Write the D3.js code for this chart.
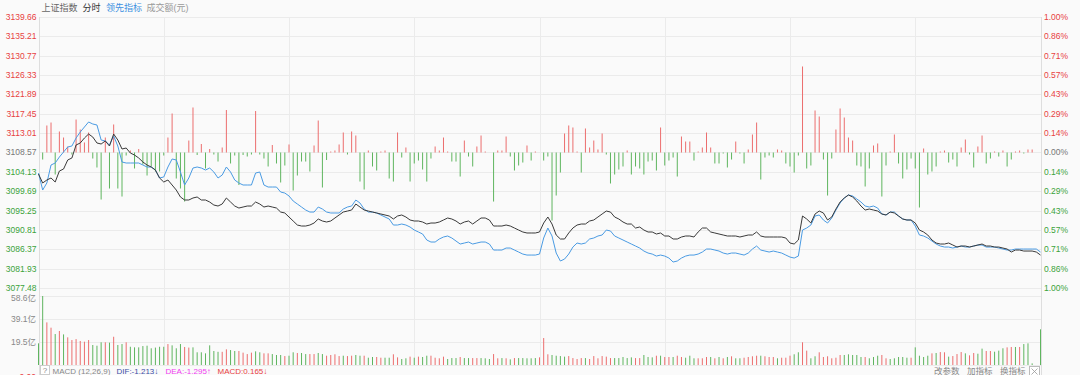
<!DOCTYPE html>
<html>
<head>
<meta charset="utf-8">
<script src="https://cdn.jsdelivr.net/npm/d3@7"></script>
<style>
  html, body { margin: 0; padding: 0; background: #fafafa; }
  svg { display: block; font-family: "Liberation Sans", Arial, "Noto Sans CJK SC", sans-serif; }
</style>
</head>
<body>
<svg id="chart" width="1080" height="375"></svg>
<script>
//DATA
const preClose = 3108.57;

const priceTicks = [3139.66, 3135.21, 3130.77, 3126.33, 3121.89, 3117.45, 3113.01, 3108.57,
  3104.13, 3099.69, 3095.25, 3090.81, 3086.37, 3081.93, 3077.48];
const pctTicks = ['1.00%', '0.86%', '0.71%', '0.57%', '0.43%', '0.29%', '0.14%', '0.00%',
  '0.14%', '0.29%', '0.43%', '0.57%', '0.71%', '0.86%', '1.00%'];
const volTicks = [58.6, 39.1, 19.5];
const volTickLabels = ['58.6亿', '39.1亿', '19.5亿'];

// 上证指数 minute price, 241 minutes
const indexLine = [
  3103.63,3101.57,3102.26,3102.72,3101.80,3104.32,3104.78,3106.85,3107.31,3110.29,
  3110.75,3111.89,3112.81,3112.12,3110.75,3110.52,3111.21,3110.06,3112.81,3111.44,
  3109.37,3109.60,3108.45,3107.99,3107.31,3106.39,3105.70,3105.24,3104.55,3102.72,
  3101.80,3102.26,3101.11,3099.96,3098.36,3097.67,3097.67,3098.13,3098.36,3097.67,
  3097.67,3097.21,3096.52,3096.29,3096.75,3098.13,3097.21,3096.29,3095.83,3096.06,
  3096.29,3096.29,3097.21,3096.75,3096.06,3096.29,3096.06,3095.83,3094.91,3094.69,
  3093.77,3092.85,3091.93,3091.70,3091.70,3091.93,3092.39,3093.31,3092.85,3092.62,
  3092.85,3093.54,3094.23,3094.91,3095.14,3095.37,3096.75,3096.06,3095.37,3095.14,
  3094.91,3094.69,3094.46,3094.23,3094.00,3093.31,3094.00,3094.23,3093.77,3093.08,
  3092.85,3092.85,3092.62,3092.16,3092.39,3092.39,3092.62,3093.08,3093.54,3093.31,
  3092.85,3092.16,3092.62,3092.85,3092.16,3092.85,3093.54,3093.54,3093.08,3091.70,
  3091.70,3091.70,3091.93,3091.70,3091.24,3090.78,3090.33,3090.10,3090.10,3090.10,
  3090.33,3092.39,3093.77,3092.16,3089.64,3088.72,3088.72,3090.10,3091.24,3091.93,
  3092.16,3092.16,3092.85,3093.08,3093.77,3094.46,3095.14,3094.91,3093.77,3093.31,
  3092.62,3092.16,3092.16,3091.24,3091.47,3090.78,3090.33,3090.33,3089.87,3090.10,
  3089.41,3089.41,3088.72,3088.72,3089.18,3089.41,3089.41,3089.18,3090.33,3091.24,
  3091.24,3090.33,3090.10,3089.87,3089.64,3089.41,3089.41,3089.41,3089.18,3089.41,
  3089.64,3089.64,3090.33,3089.41,3089.18,3089.18,3089.18,3089.18,3089.18,3088.95,
  3087.80,3087.57,3088.49,3094.00,3093.31,3092.39,3094.46,3095.14,3094.69,3093.08,
  3093.77,3095.60,3097.21,3098.13,3098.82,3098.36,3097.44,3096.29,3095.37,3095.60,
  3095.37,3095.14,3094.46,3094.23,3094.91,3094.69,3094.00,3093.31,3093.08,3093.08,
  3092.39,3090.78,3090.33,3089.64,3088.49,3087.80,3087.57,3087.57,3087.80,3087.34,
  3086.88,3087.11,3087.11,3086.88,3087.11,3087.34,3087.57,3087.11,3087.11,3086.88,
  3086.88,3086.65,3086.42,3085.73,3086.19,3086.19,3085.96,3085.96,3085.96,3085.73,
  3085.04
];

// 领先指标 minute line
const leadLine = [
  3103.86,3099.96,3101.57,3105.70,3106.16,3107.53,3108.68,3109.83,3110.06,3111.89,
  3113.27,3114.42,3115.57,3115.11,3114.88,3111.44,3111.21,3110.29,3112.35,3110.06,
  3106.39,3106.16,3106.16,3106.16,3106.16,3105.70,3105.24,3105.24,3104.55,3102.72,
  3102.95,3105.24,3107.08,3106.85,3104.09,3101.11,3102.72,3105.01,3105.24,3105.01,
  3104.55,3105.01,3104.09,3102.72,3103.40,3105.24,3104.09,3102.26,3101.57,3101.11,
  3101.11,3101.11,3103.86,3104.09,3101.11,3100.65,3100.65,3100.65,3099.50,3099.27,
  3098.59,3097.44,3096.75,3096.06,3095.37,3094.91,3094.91,3096.06,3095.60,3094.91,
  3094.69,3094.69,3094.69,3095.60,3096.06,3096.29,3097.67,3096.98,3095.60,3094.91,
  3094.91,3094.69,3094.23,3093.77,3093.31,3091.93,3091.93,3092.16,3091.93,3091.47,
  3090.78,3090.33,3089.87,3088.49,3088.03,3088.03,3088.72,3089.18,3089.41,3088.95,
  3088.26,3087.57,3087.80,3088.03,3087.57,3087.80,3088.03,3088.03,3087.57,3086.19,
  3086.19,3086.19,3086.65,3086.65,3086.19,3085.73,3085.27,3085.04,3085.04,3085.04,
  3085.27,3088.95,3091.24,3089.41,3085.50,3083.67,3084.12,3085.27,3086.88,3087.80,
  3087.57,3087.80,3088.72,3088.95,3089.41,3089.64,3090.78,3090.56,3089.41,3088.95,
  3088.49,3088.03,3087.57,3087.11,3086.65,3085.96,3085.50,3085.27,3084.81,3085.04,
  3084.81,3084.35,3083.44,3083.67,3084.35,3084.81,3085.04,3085.04,3085.27,3085.73,
  3086.42,3086.42,3086.19,3085.96,3085.50,3085.27,3085.50,3085.50,3085.27,3085.04,
  3085.50,3086.42,3087.11,3086.19,3085.96,3085.73,3085.96,3085.73,3085.50,3085.04,
  3084.58,3084.35,3084.81,3090.78,3091.24,3091.93,3094.00,3094.23,3093.08,3092.39,
  3093.54,3095.37,3096.98,3098.13,3098.82,3098.59,3097.90,3097.21,3096.29,3096.06,
  3096.29,3095.83,3094.46,3094.23,3094.91,3094.91,3094.00,3093.31,3093.08,3093.08,
  3091.70,3089.64,3089.41,3088.95,3088.26,3087.57,3087.11,3086.88,3086.88,3086.65,
  3086.88,3087.11,3086.88,3086.88,3087.11,3087.34,3087.34,3086.88,3086.88,3086.88,
  3086.65,3086.42,3086.19,3086.19,3086.42,3086.42,3086.42,3086.42,3086.42,3086.42,
  3085.73
];

// buy/sell force bars, in index points around the previous close
const forceBars = [
  0,-1.61,6.20,6.88,-5.05,4.82,3.44,1.38,-0.46,7.57,
  5.28,2.30,4.59,-1.38,-3.44,-10.79,3.44,-8.26,6.43,-8.26,
  -10.10,-0.69,0.46,-3.67,0.80,-2.75,-5.28,-3.21,-4.36,-4.36,
  -0.69,3.44,8.95,-5.97,-8.26,-11.25,2.75,10.33,-0.57,1.95,
  -3.67,0.80,-0.46,-2.07,1.15,9.75,-2.52,-0.69,-7.46,-0.57,
  -0.92,-0.46,9.52,-0.46,-1.38,-3.21,1.72,-2.52,-6.88,-2.98,
  1.84,-8.72,-5.28,-2.07,-2.07,-4.36,1.61,7.34,-8.03,-1.72,
  0.23,0.46,1.84,4.59,-0.46,4.82,3.90,-6.66,-8.49,0.46,
  -3.21,-4.13,0.23,0.46,-5.97,-6.66,4.59,-1.15,1.15,-6.66,
  -2.52,-1.84,-3.90,-6.66,-1.38,1.38,0.46,3.44,0.23,-2.07,
  -2.07,-5.51,2.75,-0.92,-3.21,1.38,3.90,0.23,0,-11.25,
  0.46,0.46,3.67,-0.92,-4.13,-2.98,-2.30,1.61,-1.84,0.23,
  0,-1.84,-0.92,-15.61,-9.87,-4.59,4.36,6.20,5.74,0.23,
  -4.59,5.51,1.15,2.75,0.69,4.36,-0.46,-7.11,-5.05,-3.90,
  -3.21,0.46,-5.05,-3.21,-3.67,-5.05,-2.07,-1.84,-4.13,5.74,
  -2.98,-1.84,-1.15,-5.51,3.67,2.52,2.52,-1.84,0.23,1.15,
  4.59,1.15,-2.52,-2.52,-0.23,-3.44,-1.61,2.52,-0.23,-2.52,
  0.69,4.13,6.88,-6.20,-1.15,-0.69,-1.15,0.69,0.46,-2.52,
  -3.21,-4.59,-0.69,19.74,-3.67,-2.98,9.64,8.26,-1.61,-9.87,
  -1.38,5.28,10.10,8.03,3.44,2.75,-2.98,-3.21,-7.80,-3.67,
  1.61,2.07,-10.10,-2.98,0.23,4.13,-2.52,-5.97,-3.90,-1.38,
  -3.67,-12.62,0.92,-5.05,-4.36,-3.21,0.23,0.46,-2.30,-1.61,
  -3.21,1.15,2.98,-0.46,-3.44,1.38,3.90,-2.52,-1.38,0.23,
  -0.92,0.46,-3.21,-1.61,0.23,0.46,-0.23,0.69,0.69,0,
  0
];

// 成交额 per minute, 亿元
const volume = [
  18.4,58.6,36.2,31.7,26.3,28.9,26.0,23.5,21.2,22.0,
  20.4,19.8,21.2,17.0,16.4,19.3,19.3,19.0,24.0,17.0,
  17.8,19.3,15.5,15.0,15.0,16.1,16.4,14.2,14.8,15.5,
  15.5,17.8,16.7,14.2,17.8,15.3,14.8,15.0,10.8,10.8,
  9.9,16.7,11.9,11.2,11.2,13.3,12.7,11.9,11.9,10.5,
  9.3,10.5,11.6,10.8,9.9,9.9,9.3,8.5,8.5,7.6,
  7.9,10.8,10.2,10.2,9.3,9.3,9.3,10.2,9.3,7.9,
  8.5,9.1,7.6,7.9,7.6,7.9,8.5,7.9,7.9,6.2,
  6.8,6.8,6.2,6.2,6.2,9.1,6.5,5.1,5.7,7.1,
  6.2,7.1,6.8,7.9,7.9,6.2,5.7,7.1,5.1,5.9,
  5.9,6.8,5.9,5.9,5.9,5.9,5.9,5.7,5.1,9.3,
  5.7,5.9,5.7,4.8,5.9,5.9,5.9,5.7,5.7,5.9,
  6.5,22.9,9.1,8.5,7.9,7.6,7.1,7.6,5.9,5.1,
  5.9,5.9,5.1,7.6,5.7,7.6,7.1,5.9,5.9,5.9,
  6.8,5.9,6.5,5.9,5.9,8.5,6.8,6.5,7.9,7.9,
  6.8,6.8,6.8,7.9,6.8,6.2,7.9,5.7,5.7,5.7,
  6.8,6.8,5.7,6.8,5.7,6.8,7.4,5.7,5.7,6.2,
  6.8,7.4,7.9,7.9,7.4,6.8,6.8,5.7,6.2,6.2,
  7.9,9.1,10.8,19.3,12.2,5.7,7.4,10.8,6.8,7.4,
  5.7,6.2,8.5,8.5,9.1,8.5,8.5,6.8,6.8,5.7,
  6.8,7.9,8.5,5.7,5.1,5.7,6.8,6.8,6.2,6.2,
  15.0,7.9,6.8,7.9,9.9,10.2,11.0,10.8,7.1,7.6,
  9.3,11.0,9.9,8.2,10.2,9.6,13.9,11.9,11.9,11.3,
  12.2,14.2,15.0,15.3,15.3,15.3,17.8,18.4,1.4,0,
  30.3
];
// r = up minute, g = down minute
const volDir =
  'ggrrgrgrrrrrrgggrgrggrgggggggggrgggrrgggggggrrggrrrrggrrggg' +
  'rggrggrrggrrrrgrrggrggrrggrrggrgrggrrrrgggrggrrgggrrgrgrggg' +
  'ggrrrggggrrrrgrrrrrrgggggrrgggrgrrgrrgggrrrgrgrgrggrrrrgrrr' +
  'grrrggrrggrrrrrrgggggrgggrrgggggrggggrgrrgrrrgrrggrrgggrrgrg' +
  'g';

//layout
const W = 1080, H = 375;
const L = 38.5, R = 1040.5;
const topY = 17, botY = 288;
const vTop = 296, vBot = 365;

const C = {
  grid: '#ebebeb', axis: '#dedede', red: '#e8413f', green: '#3aa33a', gray: '#777',
  barRed: '#ec6e6e', barGreen: '#5fb55f', price: '#3a3a3a', lead: '#4a9be3'
};

const svg = d3.select('#chart');
svg.append('rect').attr('width', W).attr('height', H).attr('fill', '#fafafa');

const x = d3.scaleLinear().domain([0, 240]).range([L, R]);
const y = d3.scaleLinear().domain([priceTicks[priceTicks.length - 1], priceTicks[0]]).range([botY, topY]);
const yv = d3.scaleLinear().domain([0, volTicks[0]]).range([vBot, vTop]);

//grid
const grid = svg.append('g').attr('shape-rendering', 'crispEdges');
grid.selectAll('.hg').data(priceTicks).join('line')
  .attr('x1', L).attr('x2', R)
  .attr('y1', d => Math.round(y(d)) + 0.5).attr('y2', d => Math.round(y(d)) + 0.5)
  .attr('stroke', C.grid);
grid.selectAll('.vg').data([0].concat(volTicks)).join('line')
  .attr('x1', L).attr('x2', R)
  .attr('y1', d => Math.round(yv(d)) + 0.5).attr('y2', d => Math.round(yv(d)) + 0.5)
  .attr('stroke', C.grid);
grid.selectAll('.tg').data(d3.range(30, 240, 30)).join('line')
  .attr('x1', d => Math.round(x(d)) + 0.5).attr('x2', d => Math.round(x(d)) + 0.5)
  .attr('y1', topY).attr('y2', vBot)
  .attr('stroke', C.grid);
grid.selectAll('.frame').data([0, 240]).join('line')
  .attr('x1', d => Math.round(x(d)) + 0.5).attr('x2', d => Math.round(x(d)) + 0.5)
  .attr('y1', topY).attr('y2', H)
  .attr('stroke', C.axis);

//force bars
const y0 = y(preClose);
svg.append('g').selectAll('rect').data(forceBars).join('rect')
  .attr('x', (d, i) => x(i) - 0.5)
  .attr('width', 1)
  .attr('y', d => d > 0 ? y(preClose + d) : y0)
  .attr('height', d => Math.abs(y(preClose + d) - y0))
  .attr('fill', d => d > 0 ? C.barRed : C.barGreen);

//lines
const line = d3.line().x((d, i) => x(i)).y(d => y(d));
svg.append('path').datum(leadLine).attr('d', line)
  .attr('fill', 'none').attr('stroke', C.lead).attr('stroke-width', 1);
svg.append('path').datum(indexLine).attr('d', line)
  .attr('fill', 'none').attr('stroke', C.price).attr('stroke-width', 1);

//volume
svg.append('g').selectAll('rect').data(volume).join('rect')
  .attr('x', (d, i) => x(i) - 0.5)
  .attr('width', 1)
  .attr('y', d => yv(d))
  .attr('height', d => vBot - yv(d))
  .attr('fill', (d, i) => volDir[i] === 'r' ? C.barRed : C.barGreen);

//axes labels
const tickColor = (i) => i < 7 ? C.red : (i === 7 ? C.gray : C.green);
svg.append('g').selectAll('text').data(priceTicks).join('text')
  .attr('x', 36.5).attr('y', d => y(d)).attr('dy', '0.35em')
  .attr('text-anchor', 'end').attr('font-size', 8.5)
  .attr('fill', (d, i) => tickColor(i))
  .text(d => d.toFixed(2));
svg.append('g').selectAll('text').data(pctTicks).join('text')
  .attr('x', 1044).attr('y', (d, i) => y(priceTicks[i])).attr('dy', '0.35em')
  .attr('font-size', 8.5)
  .attr('fill', (d, i) => tickColor(i))
  .text(d => d);
svg.append('g').selectAll('text').data(volTicks).join('text')
  .attr('x', 36).attr('y', (d, i) => i === 0 ? yv(d) + 2 : yv(d)).attr('dy', '0.35em')
  .attr('text-anchor', 'end').attr('font-size', 8.5).attr('fill', '#888')
  .text((d, i) => volTickLabels[i]);
svg.append('text').attr('x', 36).attr('y', 379.5).attr('text-anchor', 'end')
  .attr('font-size', 8.5).attr('fill', C.red).text('0.00');

//header
const head = svg.append('g').attr('font-size', 9);
[['上证指数', 41.5, '#666'], ['分时', 82.5, '#333'], ['领先指标', 106, '#3d8fe0'], ['成交额(元)', 146.5, '#999']]
  .forEach(([t, tx, c]) => head.append('text').attr('x', tx).attr('y', 10.5).attr('fill', c).text(t));

//macd strip
const foot = svg.append('g').attr('font-size', 8);
foot.append('rect').attr('x', 40.5).attr('y', 365.5).attr('width', 9).attr('height', 9)
  .attr('fill', '#fff').attr('stroke', '#ccc');
foot.append('text').attr('x', 45).attr('y', 373).attr('text-anchor', 'middle').attr('fill', '#888').text('?');
[['MACD (12,26,9)', 52.5, '#888'], ['DIF:-1.213↓', 116.5, '#3b4ea6'], ['DEA:-1.295↑', 165.5, '#f03cf0'], ['MACD:0.165↓', 217.5, '#e8413f']]
  .forEach(([t, tx, c]) => foot.append('text').attr('x', tx).attr('y', 373.5).attr('fill', c).text(t));
[['改参数', 934], ['加指标', 967], ['换指标', 1000]]
  .forEach(([t, tx]) => foot.append('text').attr('x', tx).attr('y', 374).attr('fill', '#888').attr('font-size', 8.5).text(t));
foot.append('rect').attr('x', 1029.5).attr('y', 366.5).attr('width', 10).attr('height', 9)
  .attr('fill', '#fff').attr('stroke', '#bbb');
foot.append('path').attr('d', 'M1031.5,368.5L1037.5,374.5M1037.5,368.5L1031.5,374.5')
  .attr('stroke', '#999').attr('stroke-width', 0.8);
</script>
</body>
</html>
